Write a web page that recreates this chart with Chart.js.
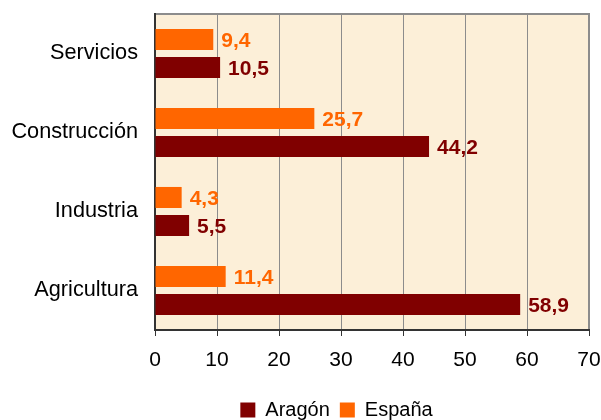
<!DOCTYPE html>
<html>
<head>
<meta charset="utf-8">
<script src="https://cdn.jsdelivr.net/npm/chart.js@4.4.1/dist/chart.umd.min.js"></script>
<style>
  html, body { margin: 0; padding: 0; background: #fff; }
</style>
</head>
<body>
<canvas id="grafico" width="601" height="420"></canvas>
<script>
const sectores = ['Servicios', 'Construcción', 'Industria', 'Agricultura'];
const espana = [9.4, 25.7, 4.3, 11.4];
const aragon = [10.5, 44.2, 5.5, 58.9];
const ticksX = [0, 10, 20, 30, 40, 50, 60, 70];

const FUENTE = '"Liberation Sans", Arial, sans-serif';
Chart.defaults.font.family = FUENTE;
Chart.defaults.color = '#000';

// fondo del area de trazado y marco gris (arriba y derecha)
const fondo = {
  id: 'fondo',
  afterLayout(chart){
    // la leyenda va algo desplazada a la derecha, como en el original
    if (chart.legend) chart.legend.left += 84;
  },
  beforeDraw(chart){
    const { ctx, chartArea: a } = chart;
    ctx.save();
    ctx.fillStyle = '#fcefd8';
    ctx.fillRect(a.left, a.top, a.width, a.height);
    ctx.strokeStyle = '#8c8c8c';
    ctx.lineWidth = 2;
    ctx.beginPath();
    ctx.moveTo(a.left, a.top);
    ctx.lineTo(a.right, a.top);
    ctx.lineTo(a.right, a.bottom);
    ctx.stroke();
    ctx.restore();
  }
};

// valores junto a cada barra, con coma decimal
const etiquetas = {
  id: 'etiquetas',
  afterDatasetsDraw(chart){
    const ctx = chart.ctx;
    ctx.save();
    ctx.font = 'bold 21px ' + FUENTE;
    ctx.textBaseline = 'middle';
    ctx.textAlign = 'left';
    chart.data.datasets.forEach((ds, i) => {
      chart.getDatasetMeta(i).data.forEach((bar, j) => {
        ctx.fillStyle = ds.backgroundColor;
        ctx.fillText(ds.data[j].toFixed(1).replace('.', ','), bar.x + 8, bar.y + 2);
      });
    });
    ctx.restore();
  }
};

new Chart(document.getElementById('grafico').getContext('2d'), {
  type: 'bar',
  data: {
    labels: sectores,
    datasets: [
      { label: 'España', data: espana, backgroundColor: '#ff6600' },
      { label: 'Aragón', data: aragon, backgroundColor: '#800000' }
    ]
  },
  options: {
    indexAxis: 'y',
    responsive: false,
    animation: false,
    barPercentage: 0.75,
    categoryPercentage: 0.71,
    layout: { padding: { left: 0, right: 12, top: 14, bottom: -10 } },
    scales: {
      x: {
        min: ticksX[0],
        max: ticksX[ticksX.length - 1],
        ticks: { stepSize: ticksX[1] - ticksX[0], padding: 12, maxRotation: 0, font: { size: 21 } },
        grid: { color: '#8c8c8c', tickColor: '#333', tickLength: 6, lineWidth: 1 },
        border: { color: '#333', width: 2 },
        afterFit(s){ s.height = 60; s.paddingLeft = 0; s.paddingRight = 0; }
      },
      y: {
        grid: { display: false, drawTicks: false },
        border: { display: true, color: '#333', width: 2 },
        ticks: { padding: 17, font: { size: 21.7 } },
        afterFit(s){ s.width = 155; s.paddingTop = 0; s.paddingBottom = 0; }
      }
    },
    plugins: {
      legend: {
        position: 'bottom',
        reverse: true,
        labels: { boxWidth: 15, boxHeight: 15, padding: 10, font: { size: 20 } }
      },
      tooltip: { enabled: false }
    }
  },
  plugins: [fondo, etiquetas]
});
</script>
</body>
</html>
